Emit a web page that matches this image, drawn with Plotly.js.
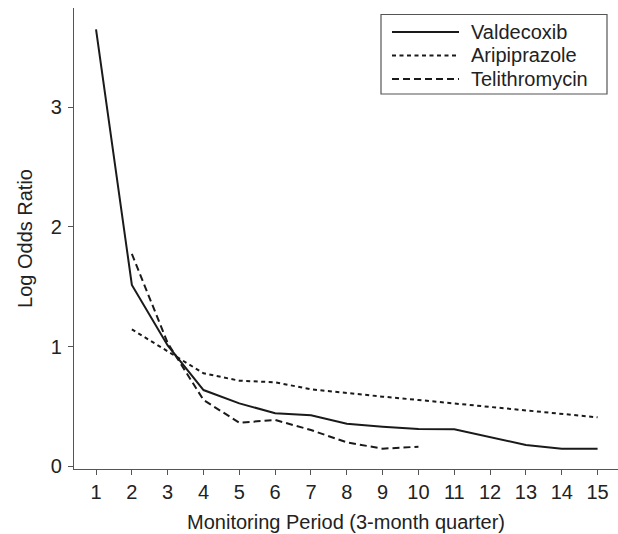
<!DOCTYPE html>
<html>
<head>
<meta charset="utf-8">
<script src="https://cdn.plot.ly/plotly-3.0.1.min.js"></script>
<style>html,body{margin:0;padding:0;background:#fff;}#chart{width:618px;height:534px;}</style>
</head>
<body>
<div id="chart"></div>
<script>
// Data
const periods = [1,2,3,4,5,6,7,8,9,10,11,12,13,14,15];
const seriesNames = ["Valdecoxib", "Aripiprazole", "Telithromycin"];
const valdecoxib = [3.65,1.515,1.01,0.637,0.526,0.443,0.426,0.356,0.331,0.312,0.309,0.242,0.178,0.147,0.147];
const aripiprazoleX = [2,3,4,5,6,7,8,9,10,11,12,13,14,15];
const aripiprazole = [1.144,0.957,0.777,0.715,0.702,0.643,0.610,0.582,0.554,0.526,0.498,0.464,0.437,0.409];
const telithromycinX = [2,3,4,5,6,7,8,9,10];
const telithromycin = [1.774,1.03,0.554,0.364,0.387,0.303,0.2,0.147,0.164];
const xTicks = periods;
const yTicks = [0,1,2,3];

const W = 618, H = 534;
const mL = 74, mR = 0, mT = 8, mB = 65;
const pw = W - mL - mR, ph = H - mT - mB;
const px2x = p => (p - mL) / pw;
const py2y = p => (H - mB - p) / ph;

const lineColor = "#1a1a1a";
const dashes = ["solid", "4px,3.5px", "7px,4px"];
const xs = [periods, aripiprazoleX, telithromycinX];
const ys = [valdecoxib, aripiprazole, telithromycin];

const traces = seriesNames.map((n, i) => ({
  x: xs[i], y: ys[i], name: n, type: "scatter", mode: "lines",
  line: {color: lineColor, width: 2, dash: dashes[i]},
  showlegend: false, hoverinfo: "skip"
}));

// Custom legend (box + samples + labels) in paper coords
const shapes = [{
  type: "rect", xref: "paper", yref: "paper",
  x0: px2x(381), x1: px2x(607), y0: py2y(14.5), y1: py2y(94),
  line: {color: "#555", width: 1.2}, fillcolor: "rgba(0,0,0,0)"
}];
const annotations = [];
const entryY = [32, 55.5, 79];
seriesNames.forEach((n, i) => {
  shapes.push({
    type: "line", xref: "paper", yref: "paper",
    x0: px2x(392), x1: px2x(459), y0: py2y(entryY[i]), y1: py2y(entryY[i]),
    line: {color: lineColor, width: 2, dash: dashes[i]}
  });
  annotations.push({
    xref: "paper", yref: "paper", x: px2x(469), y: py2y(entryY[i]),
    xanchor: "left", yanchor: "middle", showarrow: false, text: n,
    font: {family: "Liberation Sans, Arial, sans-serif", size: 20, color: "#222"}
  });
});

const font = {family: "Liberation Sans, Arial, sans-serif", size: 20, color: "#222"};
const layout = {
  width: W, height: H,
  margin: {l: mL, r: mR, t: mT, b: mB, pad: 0},
  paper_bgcolor: "#fff", plot_bgcolor: "#fff",
  font: font,
  showlegend: false,
  xaxis: {
    range: [0.385, 15.57], tickmode: "array", tickvals: xTicks, ticktext: xTicks.map(String),
    ticks: "outside", ticklen: 5, tickwidth: 1, tickcolor: "#555",
    showline: true, linecolor: "#555", linewidth: 1.2, showgrid: false, zeroline: false,
    tickfont: font, ticklabelstandoff: 0,
    title: {text: "Monitoring Period (3-month quarter)", font: font, standoff: 12}
  },
  yaxis: {
    range: [-0.0226, 3.829], tickmode: "array", tickvals: yTicks, ticktext: yTicks.map(String),
    ticks: "outside", ticklen: 5, tickwidth: 1, tickcolor: "#555",
    showline: true, linecolor: "#555", linewidth: 1.2, showgrid: false, zeroline: false,
    tickfont: font, ticklabelstandoff: 2,
    title: {text: "Log Odds Ratio", font: font, standoff: 12}
  },
  shapes: shapes,
  annotations: annotations
};

Plotly.newPlot("chart", traces, layout, {staticPlot: true, displayModeBar: false});
</script>
</body>
</html>
